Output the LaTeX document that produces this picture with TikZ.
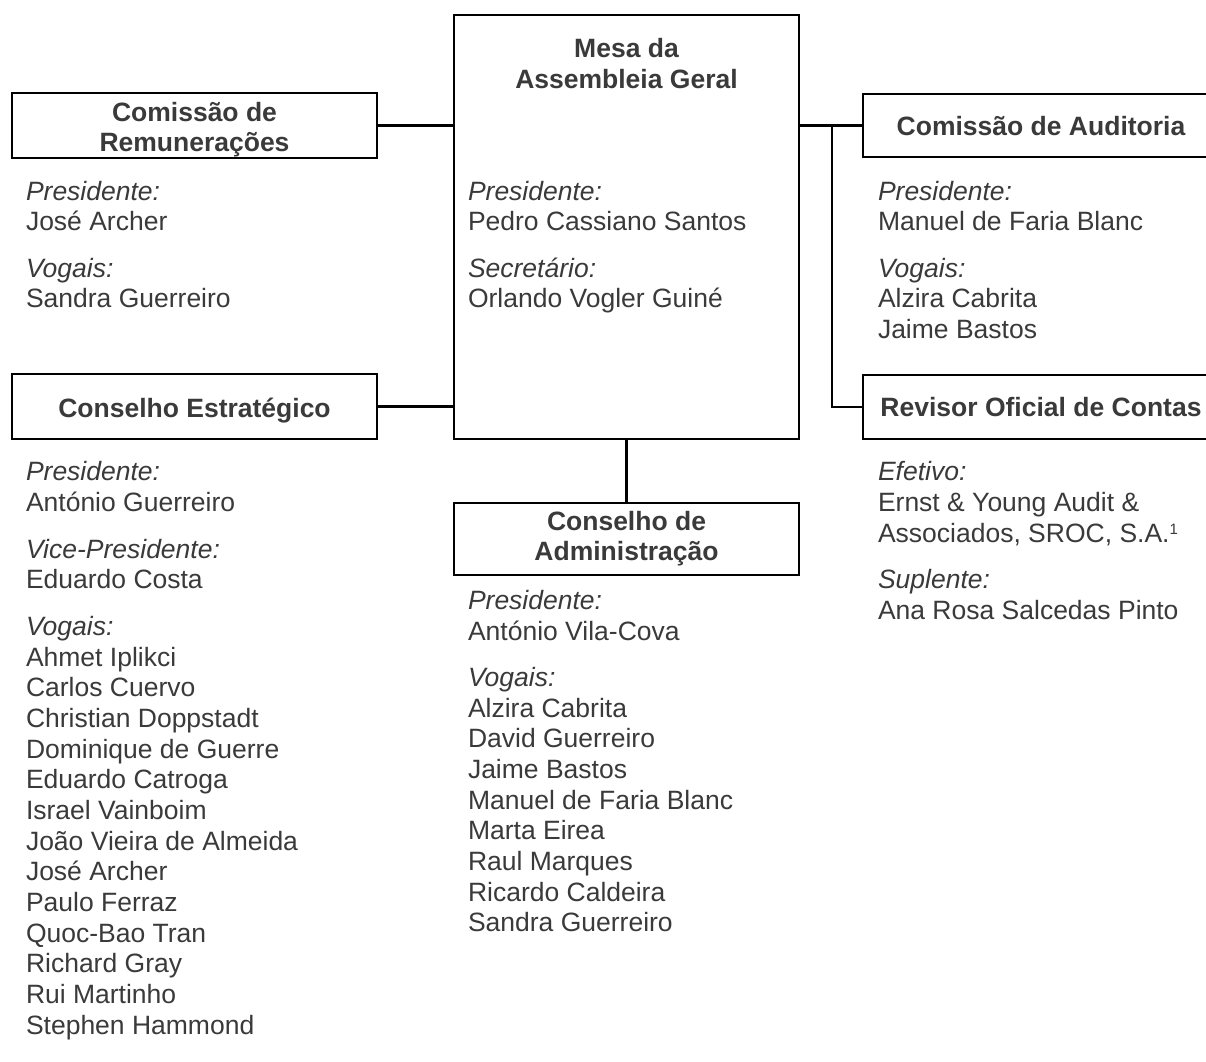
\documentclass[tikz,border=0pt]{standalone}
\usepackage{fontspec}
\setmainfont{Liberation Sans}
\definecolor{txtc}{HTML}{3A3A3A}
\begin{document}
\begin{tikzpicture}[x=1pt,y=-1pt,
  box/.style={draw=black, line width=2.2pt, inner sep=0pt, outer sep=0pt, rectangle},
  conn/.style={draw=black, line width=2.2pt},
  txt/.style={text=txtc, inner sep=0pt, outer sep=0pt, anchor=base west, font=\fontsize{26.5}{30.7}\selectfont},
  role/.style={txt, font=\fontsize{26.5}{30.7}\selectfont\itshape},
  ttl/.style={text=txtc, inner sep=0pt, outer sep=0pt, anchor=base, font=\fontsize{26.5}{30.7}\selectfont\bfseries}]
\useasboundingbox[fill=white] (0,0) rectangle (1206,1061);

% boxes
\node[box, minimum width=365pt, minimum height=65pt] (rem) at (194.5,125.5) {};
\node[box, minimum width=365pt, minimum height=65pt] (ce) at (194.5,406.5) {};
\node[box, minimum width=345pt, minimum height=424pt] (mesa) at (626.5,227) {};
\node[box, minimum width=345pt, minimum height=72pt] (ca) at (626.5,539) {};
\node[box, minimum width=356pt, minimum height=63pt] (aud) at (1041,125.5) {};
\node[box, minimum width=356pt, minimum height=64pt] (roc) at (1041,407) {};

% connectors
\draw[conn] (rem.east) -- (rem.east -| mesa.west);
\draw[conn] (ce.east) -- (ce.east -| mesa.west);
\draw[conn] (aud.west -| mesa.east) -- (aud.west);
\coordinate (j) at (832,125.5);
\draw[conn] (j) |- (roc.west);
\draw[conn] (mesa.south) -- (ca.north);

% titles
\node[ttl] (t1a) at (626.5,57) {Mesa da};
\node[ttl] (t1b) at (626.5,88) {Assembleia Geral};
\node[ttl] (t2a) at (194.5,121) {Comissão de};
\node[ttl] (t2b) at (194.5,151) {Remunerações};
\node[ttl] (t3) at (194.5,417) {Conselho Estratégico};
\node[ttl] (t4a) at (626.5,530) {Conselho de};
\node[ttl] (t4b) at (626.5,560) {Administração};
\node[ttl] (t5) at (1041,135) {Comissão de Auditoria};
\node[ttl] (t6) at (1041,416) {Revisor Oficial de Contas};

% Comissão de Remunerações
\node[role] (remP) at (26,200) {Presidente:};
\node[txt] (remP1) at (26,230) {José Archer};
\node[role] (remV) at (26,277) {Vogais:};
\node[txt] (remV1) at (26,307) {Sandra Guerreiro};

% Conselho Estratégico
\node[role] (ceP) at (26,480) {Presidente:};
\node[txt] (ceP1) at (26,511) {António Guerreiro};
\node[role] (ceVP) at (26,558) {Vice-Presidente:};
\node[txt] (ceVP1) at (26,588) {Eduardo Costa};
\node[role] (ceV) at (26,635) {Vogais:};
\foreach \t [count=\i] in {Ahmet Iplikci, Carlos Cuervo, Christian Doppstadt, Dominique de Guerre, Eduardo Catroga, Israel Vainboim, João Vieira de Almeida, José Archer, Paulo Ferraz, Quoc-Bao Tran, Richard Gray, Rui Martinho, Stephen Hammond}
  \node[txt] (ce\i) at (26,{666+(\i-1)*30.67}) {\t};

% Mesa
\node[role] (mP) at (468,200) {Presidente:};
\node[txt] (mP1) at (468,230) {Pedro Cassiano Santos};
\node[role] (mS) at (468,277) {Secretário:};
\node[txt] (mS1) at (468,307) {Orlando Vogler Guiné};

% Conselho de Administração
\node[role] (caP) at (468,609) {Presidente:};
\node[txt] (caP1) at (468,640) {António Vila-Cova};
\node[role] (caV) at (468,686) {Vogais:};
\foreach \t [count=\i] in {Alzira Cabrita, David Guerreiro, Jaime Bastos, Manuel de Faria Blanc, Marta Eirea, Raul Marques, Ricardo Caldeira, Sandra Guerreiro}
  \node[txt] (ca\i) at (468,{717+(\i-1)*30.67}) {\t};

% Comissão de Auditoria
\node[role] (aP) at (878,200) {Presidente:};
\node[txt] (aP1) at (878,230) {Manuel de Faria Blanc};
\node[role] (aV) at (878,277) {Vogais:};
\node[txt] (aV1) at (878,307) {Alzira Cabrita};
\node[txt] (aV2) at (878,338) {Jaime Bastos};

% Revisor Oficial de Contas
\node[role] (rE) at (878,480) {Efetivo:};
\node[txt] (rE1) at (878,511) {Ernst \& Young Audit \&};
\node[txt] (rE2) at (878,542) {Associados, SROC, S.A.\raisebox{8pt}{\fontsize{15}{15}\selectfont 1}};
\node[role] (rS) at (878,588) {Suplente:};
\node[txt] (rS1) at (878,619) {Ana Rosa Salcedas Pinto};
\end{tikzpicture}
\end{document}
